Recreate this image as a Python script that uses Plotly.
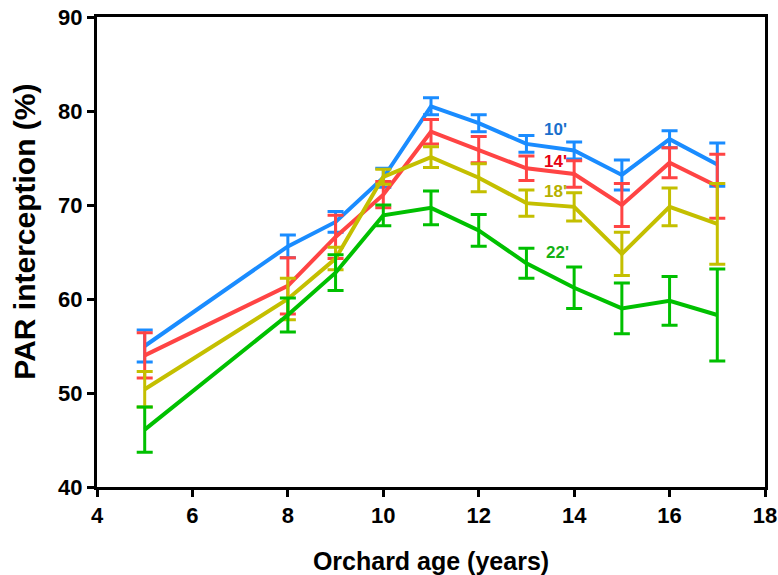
import plotly.graph_objects as go

ages = [5, 8, 9, 10, 11, 12, 13, 14, 15, 16, 17]

s10 = [55.0, 65.6, 68.2, 72.9, 80.5, 78.7, 76.5, 75.8, 73.2, 77.0, 74.3]
e10 = [1.7, 1.2, 1.1, 1.0, 0.9, 0.9, 0.9, 0.9, 1.6, 0.9, 2.3]

s14 = [54.0, 61.4, 66.6, 71.1, 77.8, 75.9, 73.9, 73.3, 70.0, 74.5, 72.0]
e14 = [2.4, 3.0, 2.3, 1.4, 1.3, 1.4, 1.3, 1.4, 2.3, 1.6, 3.4]

s18 = [50.4, 60.0, 64.3, 73.0, 75.1, 72.9, 70.2, 69.8, 64.8, 69.8, 68.0]
e18 = [1.9, 2.2, 1.2, 0.8, 1.1, 1.5, 1.4, 1.5, 2.3, 2.0, 4.3]

s22 = [46.1, 58.3, 62.8, 68.9, 69.7, 67.3, 63.8, 61.2, 59.0, 59.8, 58.3]
e22 = [2.4, 1.8, 1.9, 1.1, 1.8, 1.7, 1.6, 2.2, 2.7, 2.6, 4.9]

label_x = [13.6, 13.6, 13.6, 13.65]
label_y = [78.0, 74.6, 71.4, 64.9]

series = [
    ("10'", s10, e10, "#1a8cff", "#1a6fcc"),
    ("14'", s14, e14, "#ff4444", "#e60012"),
    ("18'", s18, e18, "#c4bf00", "#b5b000"),
    ("22'", s22, e22, "#00c000", "#14b014"),
]

fig = go.Figure()
for i, (name, ys, es, col, lcol) in enumerate(series):
    fig.add_trace(go.Scatter(
        x=ages, y=ys, mode="lines", name=name,
        line=dict(color=col, width=4),
        error_y=dict(type="data", array=es, visible=True, color=col,
                     thickness=3, width=8),
        showlegend=False,
    ))
    fig.add_annotation(x=label_x[i], y=label_y[i], text=name, showarrow=False,
                       xanchor="center", yanchor="middle",
                       font=dict(family="Liberation Sans, Arial", size=17,
                                 color=lcol, weight="bold"))

axis_font = dict(family="Liberation Sans, Arial", size=22, color="black", weight="bold")
xtitle_font = dict(family="Liberation Sans, Arial", size=25, color="black", weight="bold")
ytitle_font = dict(family="Liberation Sans, Arial", size=30, color="black", weight="bold")

fig.update_xaxes(range=[4, 18], tickvals=[4, 6, 8, 10, 12, 14, 16, 18],
                 showgrid=False, zeroline=False, showline=True, linecolor="black",
                 linewidth=3, mirror=True, ticks="outside", ticklen=7, tickwidth=3,
                 tickcolor="black", tickfont=axis_font, automargin=False,
                 title=dict(text="Orchard age (years)", font=xtitle_font, standoff=28))
fig.update_yaxes(range=[40, 90], tickvals=[40, 50, 60, 70, 80, 90],
                 showgrid=False, zeroline=False, showline=True, linecolor="black",
                 linewidth=3, mirror=True, ticks="outside", ticklen=7, tickwidth=3,
                 tickcolor="black", tickfont=axis_font, automargin=False)

fig.add_annotation(xref="paper", yref="paper", x=-0.108, y=0.543,
                   text="PAR interception (%)", textangle=-90, showarrow=False,
                   xanchor="center", yanchor="middle", font=ytitle_font)

fig.update_layout(width=778, height=575, plot_bgcolor="white", paper_bgcolor="white",
                  margin=dict(l=97, r=13, t=17, b=88))

fig.write_html("out.html")
